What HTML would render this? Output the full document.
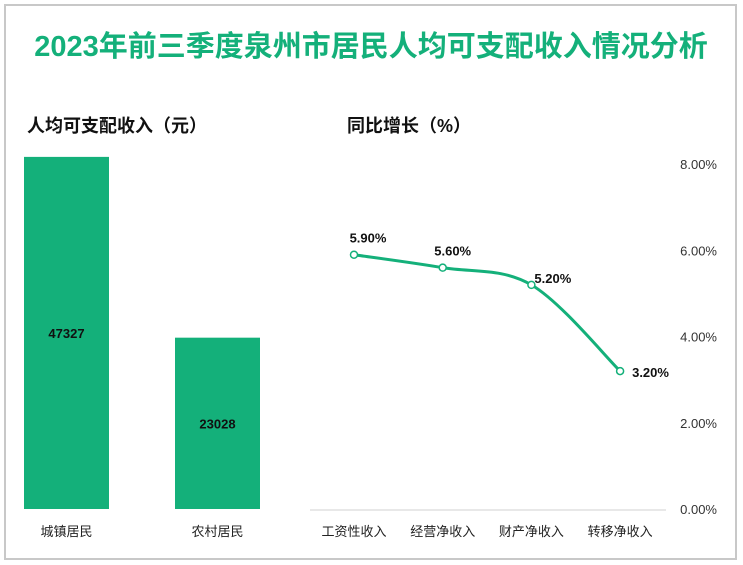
<!DOCTYPE html>
<html><head><meta charset="utf-8"><style>
body{margin:0;width:743px;height:565px;background:#fff;overflow:hidden;font-family:"Liberation Sans","Noto Sans CJK SC",sans-serif;}
#frame{position:absolute;left:4px;top:4px;width:733px;height:556px;border:2px solid #c8c8c8;box-sizing:border-box;}
</style></head><body>
<div id="frame"></div>
<svg id="c" width="743" height="565" style="position:absolute;left:0;top:0">
<text x="371" y="56" text-anchor="middle" font-size="29" font-weight="bold" fill="#14b07a" font-family="Liberation Sans,Noto Sans CJK SC,sans-serif">2023年前三季度泉州市居民人均可支配收入情况分析</text>
<text x="27" y="132" font-size="18" font-weight="bold" fill="#111" font-family="Liberation Sans,Noto Sans CJK SC,sans-serif">人均可支配收入（元）</text>
<text x="347" y="132" font-size="18" font-weight="bold" fill="#111" font-family="Liberation Sans,Noto Sans CJK SC,sans-serif">同比增长（%）</text>
<line x1="310" y1="510" x2="666" y2="510" stroke="#d0d0d0" stroke-width="1"/>
</svg>
<script>
const barCats=["城镇居民","农村居民"];
const barVals=[47327,23028];
const lineCats=["工资性收入","经营净收入","财产净收入","转移净收入"];
const lineVals=[5.9,5.6,5.2,3.2];
const yTicks=[0,2,4,6,8];

const svg=document.getElementById('c');
const NS='http://www.w3.org/2000/svg';
function mk(t,a,txt){const e=document.createElementNS(NS,t);for(const k in a)e.setAttribute(k,a[k]);if(txt!=null)e.textContent=txt;svg.appendChild(e);return e;}
const F='Liberation Sans,Noto Sans CJK SC,sans-serif';
const base=509;
const barY=v=>base-v*0.00744;
const barX=i=>24+i*151;
barVals.forEach((v,i)=>{
  const r=mk('rect',{x:barX(i),y:barY(v),width:85,height:base-barY(v),fill:'#14b07a'});
  
  
  const t=mk('text',{x:barX(i)+42.5,y:(barY(v)+base)/2+5,'text-anchor':'middle','font-size':13,'font-weight':'bold',fill:'#111','font-family':F},String(v));
  
  
  const c=mk('text',{x:barX(i)+42.5,y:536,'text-anchor':'middle','font-size':13,fill:'#222','font-family':F},barCats[i]);
  
  
});
const ly=v=>base-v*43.1;
const lx=i=>354+i*88.7;
yTicks.forEach(t=>{
  const e=mk('text',{x:717,y:ly(t)+5,'text-anchor':'end','font-size':13,fill:'#333','font-family':F},t.toFixed(2)+'%');
  
  
});
lineCats.forEach((c,i)=>{
  const e=mk('text',{x:lx(i),y:536,'text-anchor':'middle','font-size':13,fill:'#222','font-family':F},c);
  
  
});
const P=lineVals.map((v,i)=>[lx(i),ly(v)]);
let d='M'+P[0][0]+','+P[0][1];
for(let i=0;i<P.length-1;i++){
  const p0=P[Math.max(0,i-1)],p1=P[i],p2=P[i+1],p3=P[Math.min(P.length-1,i+2)];
  const c1=[p1[0]+(p2[0]-p0[0])/6,p1[1]+(p2[1]-p0[1])/6];
  const c2=[p2[0]-(p3[0]-p1[0])/6,p2[1]-(p3[1]-p1[1])/6];
  d+=` C${c1[0]},${c1[1]} ${c2[0]},${c2[1]} ${p2[0]},${p2[1]}`;
}
const path=mk('path',{d:d,fill:'none',stroke:'#14b07a','stroke-width':3});


const offs=[[0,-12],[0,-12],[3,-2],[12,6]];
P.forEach((p,i)=>{
  const c=mk('circle',{cx:p[0],cy:p[1],r:3.5,fill:'#fff',stroke:'#14b07a','stroke-width':1.5});
  
  
  const anchor=i>=2?'start':'middle';
  const t=mk('text',{x:p[0]+offs[i][0]+(i==0?14:i==1?10:0),y:p[1]+offs[i][1],'text-anchor':anchor,'font-size':13,'font-weight':'bold',fill:'#111','font-family':F},lineVals[i].toFixed(2)+'%');
  
  
});
</script>
</body></html>
